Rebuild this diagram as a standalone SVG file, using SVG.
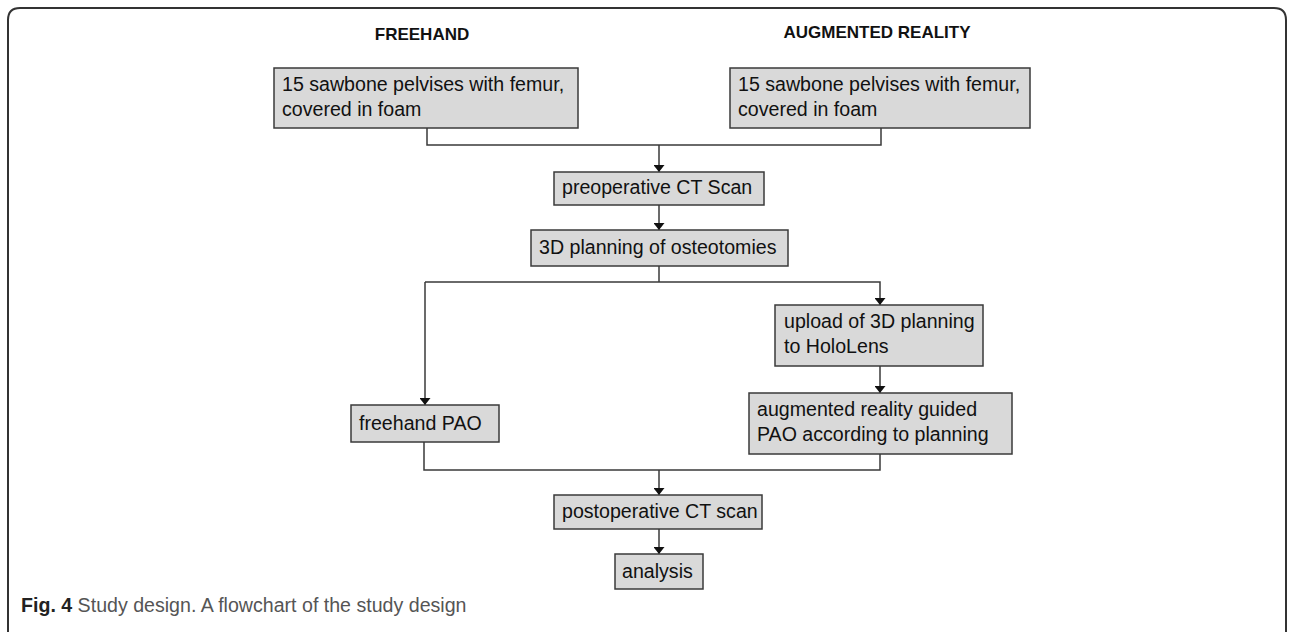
<svg xmlns="http://www.w3.org/2000/svg" width="1290" height="632" viewBox="0 0 1290 632">
<defs>
<style>
.box{fill:#d9d9d9;stroke:#3a3a3a;stroke-width:1.5}
.t{font-family:"Liberation Sans",Arial,sans-serif;font-size:19.6px;fill:#111}
.h{font-family:"Liberation Sans",Arial,sans-serif;font-size:17px;font-weight:bold;fill:#111;text-anchor:middle}
.c{fill:none;stroke:#3a3a3a;stroke-width:1.5}
.cap{font-family:"Liberation Sans",Arial,sans-serif;font-size:19.6px;fill:#555}
</style>
<marker id="ah" viewBox="0 0 7 11" refX="7" refY="5.5" markerWidth="7" markerHeight="11" markerUnits="userSpaceOnUse" orient="auto">
<path d="M0,0 L7,5.5 L0,11 z" fill="#111"/>
</marker>
</defs>
<rect width="1290" height="632" fill="#fff"/>
<path d="M8,632 V20 Q8,8 20,8 H1274 Q1286,8 1286,20 V632" fill="none" stroke="#333" stroke-width="2"/>
<text class="h" x="422" y="40">FREEHAND</text>
<text class="h" x="877" y="38">AUGMENTED REALITY</text>
<g id="connectors">
<path class="c" d="M427,128 V145 H881 V128"/>
<path class="c" d="M659,145 V172" marker-end="url(#ah)"/>
<path class="c" d="M659,205 V230" marker-end="url(#ah)"/>
<path class="c" d="M659,266 V282"/>
<path class="c" d="M425,282 H880 V305" marker-end="url(#ah)"/>
<path class="c" d="M425,282 V405" marker-end="url(#ah)"/>
<path class="c" d="M880,366 V393" marker-end="url(#ah)"/>
<path class="c" d="M424,442 V470 H880 V454"/>
<path class="c" d="M659,470 V495" marker-end="url(#ah)"/>
<path class="c" d="M659,529 V554" marker-end="url(#ah)"/>
</g>
<g id="fh-start">
<rect class="box" x="274" y="68" width="304" height="60"/>
<text class="t" x="282" y="91">15 sawbone pelvises with femur,</text>
<text class="t" x="282" y="116">covered in foam</text>
</g>
<g id="ar-start">
<rect class="box" x="730" y="68" width="300" height="60"/>
<text class="t" x="738" y="91">15 sawbone pelvises with femur,</text>
<text class="t" x="738" y="116">covered in foam</text>
</g>
<g id="preop">
<rect class="box" x="554" y="172" width="210" height="33"/>
<text class="t" x="562" y="194">preoperative CT Scan</text>
</g>
<g id="planning">
<rect class="box" x="531" y="230" width="257" height="36"/>
<text class="t" x="539" y="254">3D planning of osteotomies</text>
</g>
<g id="upload">
<rect class="box" x="775" y="305" width="208" height="61"/>
<text class="t" x="784" y="328">upload of 3D planning</text>
<text class="t" x="784" y="353">to HoloLens</text>
</g>
<g id="freehand-pao">
<rect class="box" x="351" y="405" width="148" height="37"/>
<text class="t" x="359" y="430">freehand PAO</text>
</g>
<g id="ar-pao">
<rect class="box" x="749" y="393" width="263" height="61"/>
<text class="t" x="757" y="416">augmented reality guided</text>
<text class="t" x="757" y="441">PAO according to planning</text>
</g>
<g id="postop">
<rect class="box" x="554" y="495" width="208" height="34"/>
<text class="t" x="562" y="518">postoperative CT scan</text>
</g>
<g id="analysis">
<rect class="box" x="615" y="554" width="88" height="35"/>
<text class="t" x="622" y="578">analysis</text>
</g>
<text class="cap" x="21" y="612"><tspan font-weight="bold" fill="#222">Fig. 4</tspan> Study design. A flowchart of the study design</text>
</svg>
